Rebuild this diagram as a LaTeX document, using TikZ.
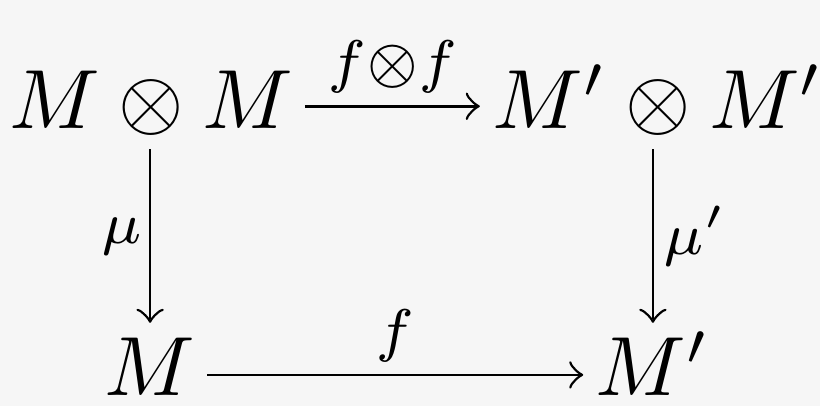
\documentclass[tikz,border=0pt]{standalone}
\definecolor{bggray}{RGB}{246,246,246}
\begin{document}
\begin{tikzpicture}[
	obj/.style={inner sep=0pt,anchor=base,text height=7pt,text depth=1pt},
	lab/.style={inner sep=1.4pt},
	arr/.style={->,line width=0.32pt,shorten <=1.2pt,shorten >=1.3pt}]
				\fill[bggray](0,0) rectangle (3.431,1.699);
				\useasboundingbox (0,0) rectangle (3.431,1.699);
				\node[obj](MM) at (0.632,1.163){$M\otimes M$};
				\node[obj](NN) at (2.753,1.163){$M'\otimes M'$};
				\node[obj](M) at (0.628,0.046){$M$};
				\node[obj](N) at (2.732,0.046){$M'$};
				\draw[arr]([yshift=2.6pt]MM.base east) to node[lab,above]{$\scriptstyle f\otimes f$} ([yshift=2.6pt]NN.base west);
				\draw[arr]([yshift=2.4pt]M.base east) to node[lab,above]{$\scriptstyle f$} ([yshift=2.4pt]N.base west);
				\draw[arr,shorten <=1.3pt,shorten >=1.4pt](M |- MM.south) to node[lab,left,inner sep=0.8pt]{$\scriptstyle\mu$} (M.north);
				\draw[arr,shorten <=1.3pt,shorten >=1.4pt](N |- NN.south) to node[lab,right,inner sep=1.1pt]{$\scriptstyle\mu'$} (N.north);
\end{tikzpicture}
\end{document}
